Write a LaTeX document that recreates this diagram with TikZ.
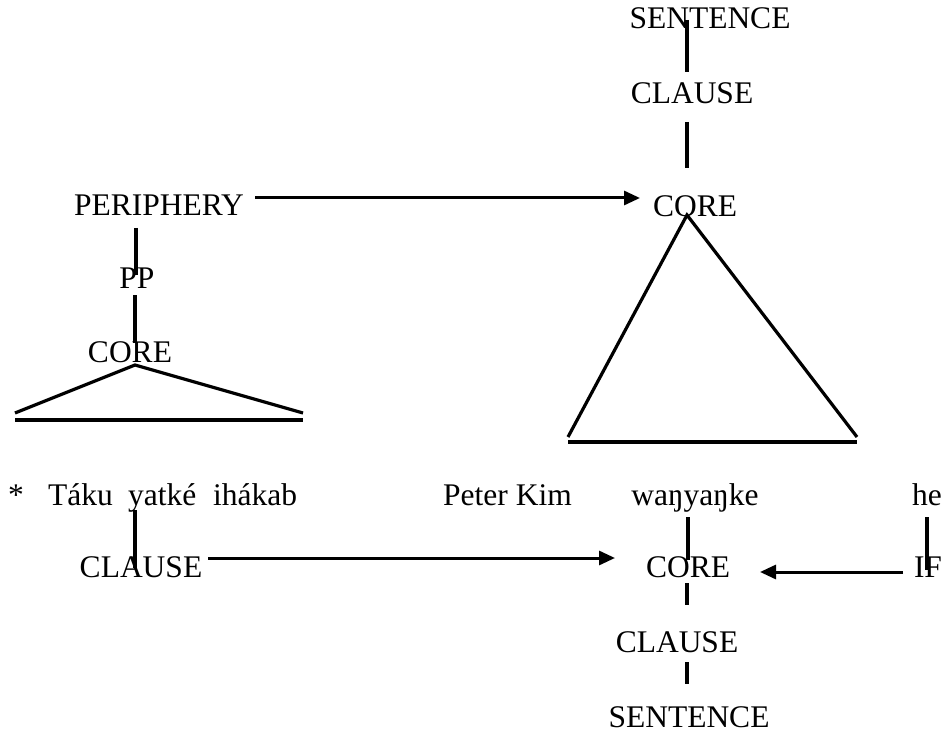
\documentclass[tikz,border=0pt]{standalone}
\usepackage{fontspec}
\setmainfont{Liberation Serif}
\usetikzlibrary{arrows.meta,calc}

\tikzset{
  lbl/.style={inner sep=0pt, anchor=base, font=\fontsize{31.5pt}{37pt}\selectfont},
  lblw/.style={lbl, anchor=base west},
  branch/.style={line width=3.2pt},
  pointer/.style={line width=3pt, -{Triangle[length=16pt 0 0,width=14pt 0 0]}},
}

\begin{document}
\begin{tikzpicture}[x=1pt,y=-1pt]
\useasboundingbox (0,0) rectangle (946,733);

% upper tree: sentence, clause, core, periphery
\node[lbl] (s1)    at (710,29)  {SENTENCE};
\node[lbl] (c1)    at (692,104) {CLAUSE};
\node[lbl] (core1) at (695,217) {CORE};
\node[lbl] (peri)  at (159,215) {PERIPHERY};
\node[lbl] (pp)    at (137,288) {PP};
\node[lbl] (core2) at (130,362) {CORE};

% the sentence itself
\node[lbl]  (star)  at (16,505)  {*};
\node[lblw] (taku)  at (48,505)  {Táku};
\node[lblw] (yatke) at (128,505) {yatké};
\node[lblw] (ihak)  at (213,505) {ihákab};
\node[lblw] (peter) at (443,505) {Peter Kim};
\node[lbl]  (wan)   at (695,505) {waŋyaŋke};
\node[lbl]  (he)    at (927,505) {he};

% lower tree
\node[lbl] (clause2) at (141,577) {CLAUSE};
\node[lbl] (core3)   at (688,577) {CORE};
\node[lbl] (if)      at (928,577) {IF};
\node[lbl] (clause3) at (677,652) {CLAUSE};
\node[lbl] (s3)      at (689,727) {SENTENCE};

% upper branches
\draw[branch] ($(s1.base)+(-23,-9)$) -- ($(c1.base)+(-5,-32)$);
\draw[branch] ($(c1.base)+(-5,18)$) -- ($(core1.base)+(-8,-49)$);
\draw[branch] ($(peri.base)+(-23,13)$) -- ($(pp.base)+(-1,-13)$);
\draw[branch] ($(pp.base)+(-2,7)$) -- ($(core2.base)+(5,-19)$);

% triangles
\draw[branch] ($(core2.base)+(-115,51)$) -- ($(core2.base)+(5,3)$) -- ($(core2.base)+(173,51)$);
\draw[branch] ($(core2.base)+(-115,58)$) -- ($(core2.base)+(173,58)$);
\draw[branch] ($(core1.base)+(-127,220)$) -- ($(core1.base)+(-8,-2)$) -- ($(core1.base)+(162,220)$);
\draw[branch] ($(core1.base)+(-127,225)$) -- ($(core1.base)+(162,225)$);

% lower branches
\draw[branch] ($(yatke.base west)+(7,5)$) -- ($(clause2.base)+(-6,-9)$);
\draw[branch] ($(wan.base)+(-7,12)$) -- ($(core3.base)+(0,-17)$);
\draw[branch] ($(he.base)+(0,12)$) -- ($(if.base)+(-1,-7)$);
\draw[branch] ($(core3.base)+(-1,6)$) -- ($(clause3.base)+(10,-47)$);
\draw[branch] ($(clause3.base)+(10,10)$) -- ($(s3.base)+(-2,-43)$);

% arrows
\draw[pointer] ($(peri.base)+(96,-17)$) -- ($(core1.base)+(-55,-19)$);
\draw[pointer] ($(clause2.base)+(67,-19)$) -- ($(core3.base)+(-73,-19)$);
\draw[pointer] ($(if.base)+(-25,-5)$) -- ($(core3.base)+(72,-5)$);
\end{tikzpicture}
\end{document}
